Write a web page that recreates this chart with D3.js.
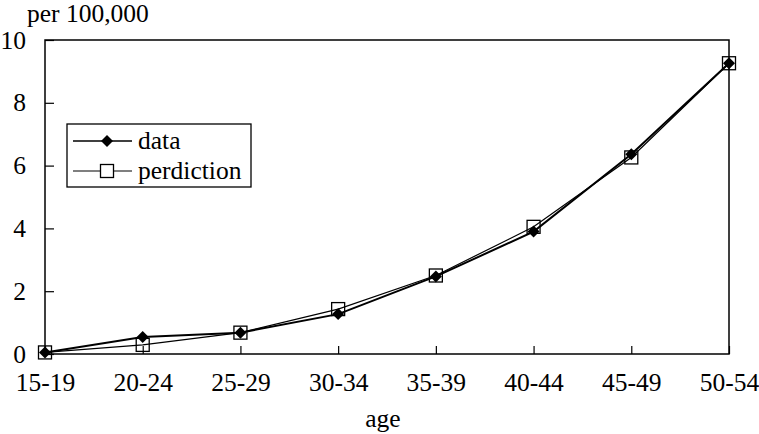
<!DOCTYPE html>
<html>
<head>
<meta charset="utf-8">
<script src="https://cdn.jsdelivr.net/npm/d3@7"></script>
<style>
  body { margin: 0; background: #fff; }
  svg text { font-family: "Liberation Serif", "Times New Roman", Tinos, "DejaVu Serif", serif; fill: #000; }
</style>
</head>
<body>
<svg id="chart" width="759" height="434"></svg>
<script>
// values
var ages = ["15-19", "20-24", "25-29", "30-34", "35-39", "40-44", "45-49", "50-54"];
var dataVals = [0.05, 0.54, 0.68, 1.27, 2.47, 3.9, 6.36, 9.26];
var predVals = [0.05, 0.29, 0.68, 1.43, 2.5, 4.05, 6.26, 9.26];
var yTicks = [0, 2, 4, 6, 8, 10];

var FS = 25.5;
var svg = d3.select("#chart");
var margin = { top: 40, right: 30, bottom: 80, left: 45 },
  width = +svg.attr("width") - margin.left - margin.right,
  height = +svg.attr("height") - margin.top - margin.bottom;

var x = d3.scalePoint().domain(ages).range([0, width]);
var y = d3.scaleLinear().domain([0, 10]).range([height, 0]);

var g = svg.append("g")
  .attr("transform", "translate(" + margin.left + "," + margin.top + ")");

// frame
g.append("rect")
  .attr("width", width).attr("height", height)
  .attr("fill", "none").attr("stroke", "#000").attr("stroke-width", 1.5);

// x axis, ticks point inward
var xa = g.append("g")
  .attr("transform", "translate(0," + height + ")")
  .call(d3.axisBottom(x).tickSizeInner(-8).tickSizeOuter(0).tickPadding(19));
xa.attr("font-family", null).attr("font-size", null);
xa.select(".domain").remove();
xa.selectAll("line").attr("stroke", "#000").attr("stroke-width", 1.2);
xa.selectAll("text").style("font-size", FS + "px");

// y axis
var ya = g.append("g")
  .call(d3.axisLeft(y).tickValues(yTicks).tickSizeInner(-9).tickSizeOuter(0).tickPadding(19));
ya.attr("font-family", null).attr("font-size", null);
ya.select(".domain").remove();
ya.selectAll("line").attr("stroke", "#000").attr("stroke-width", 1.2);
ya.selectAll("text").style("font-size", FS + "px");

svg.append("text").attr("x", 27).attr("y", 22).style("font-size", FS + "px").text("per 100,000");
svg.append("text").attr("x", margin.left + width / 2 - 4).attr("y", 427)
  .attr("text-anchor", "middle").style("font-size", FS + "px").text("age");

var line = d3.line()
  .x(function (d, i) { return x(ages[i]); })
  .y(function (d) { return y(d); });

var diamond = d3.symbol().type(d3.symbolSquare).size(72);

// prediction series
g.append("path").datum(predVals)
  .attr("d", line).attr("fill", "none").attr("stroke", "#000").attr("stroke-width", 1.2);
g.selectAll(".sq").data(predVals).enter().append("rect")
  .attr("class", "sq")
  .attr("x", function (d, i) { return x(ages[i]) - 6.5; })
  .attr("y", function (d) { return y(d) - 6.5; })
  .attr("width", 13).attr("height", 13)
  .attr("fill", "none").attr("stroke", "#000").attr("stroke-width", 1.3);

// data series
g.append("path").datum(dataVals)
  .attr("d", line).attr("fill", "none").attr("stroke", "#000").attr("stroke-width", 2);
g.selectAll(".dm").data(dataVals).enter().append("path")
  .attr("class", "dm")
  .attr("d", diamond)
  .attr("transform", function (d, i) { return "translate(" + x(ages[i]) + "," + y(d) + ") rotate(45)"; })
  .attr("fill", "#000");

// legend
var lg = svg.append("g").attr("transform", "translate(67,124)");
lg.append("rect").attr("width", 184).attr("height", 63)
  .attr("fill", "#fff").attr("stroke", "#000").attr("stroke-width", 1.3);
lg.append("line").attr("x1", 6).attr("x2", 65).attr("y1", 17).attr("y2", 17)
  .attr("stroke", "#000").attr("stroke-width", 1.5);
lg.append("path").attr("d", diamond).attr("transform", "translate(40,17) rotate(45)").attr("fill", "#000");
lg.append("text").attr("x", 71).attr("y", 25).style("font-size", FS + "px").text("data");
lg.append("line").attr("x1", 6).attr("x2", 65).attr("y1", 47).attr("y2", 47)
  .attr("stroke", "#000").attr("stroke-width", 1.2);
lg.append("rect").attr("x", 33.5).attr("y", 40.5).attr("width", 13).attr("height", 13)
  .attr("fill", "#fff").attr("stroke", "#000").attr("stroke-width", 1.3);
lg.append("text").attr("x", 71).attr("y", 55).style("font-size", FS + "px").text("perdiction");
</script>
</body>
</html>
